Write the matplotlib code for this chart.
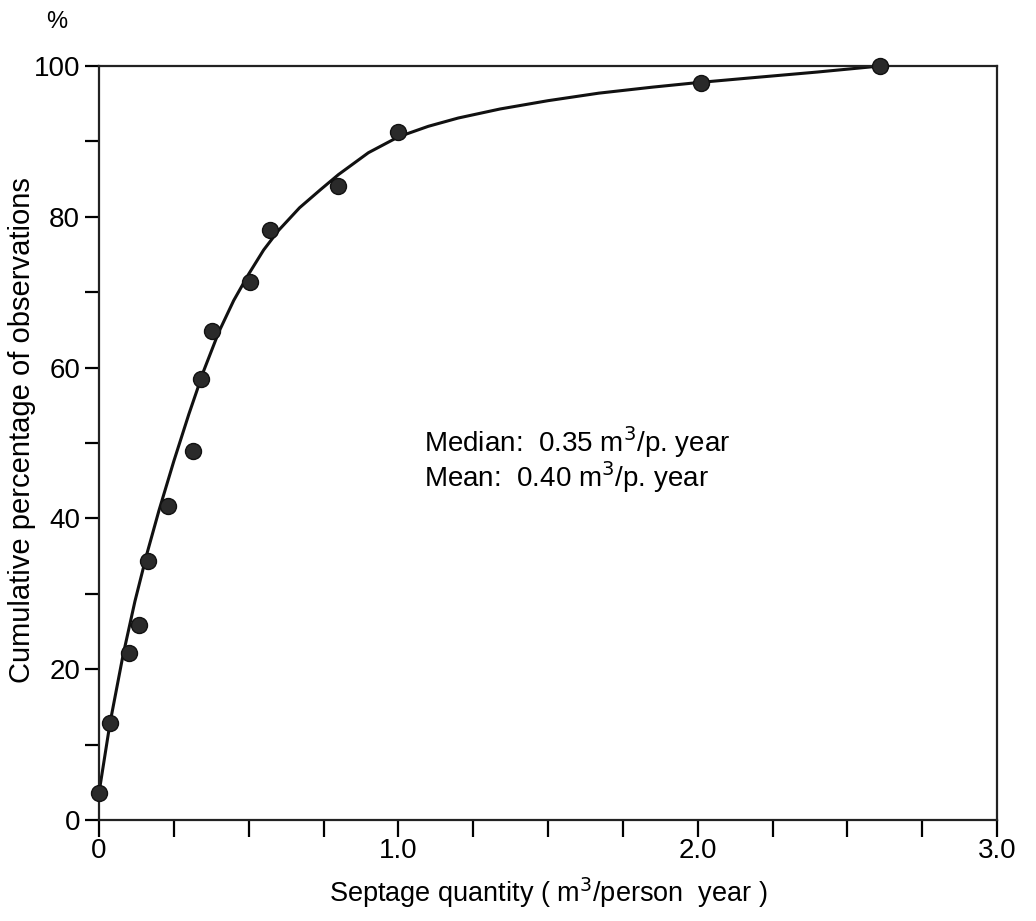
import matplotlib
matplotlib.use('Agg')
import matplotlib.pyplot as plt
import numpy as np

plt.rcParams['font.family'] = ['Liberation Sans', 'DejaVu Sans']

# observed points (septage quantity, cumulative %)
obs_x = [0.0, 0.037, 0.10, 0.134, 0.164, 0.231, 0.314, 0.342, 0.379,
         0.503, 0.572, 0.80, 1.0, 2.01, 2.61]
obs_y = [3.6, 12.9, 22.1, 25.9, 34.4, 41.6, 49.0, 58.5, 64.9,
         71.4, 78.3, 84.1, 91.2, 97.7, 100.0]

# hand-drawn fitted curve
curve_x = [0.0, 0.037, 0.08, 0.12, 0.16, 0.20, 0.25, 0.30, 0.35, 0.40,
           0.45, 0.50, 0.55, 0.60, 0.67, 0.74, 0.80, 0.90, 1.00, 1.10,
           1.20, 1.34, 1.50, 1.67, 1.85, 2.00, 2.17, 2.40, 2.61]
curve_y = [3.6, 12.9, 21.8, 29.0, 35.3, 41.0, 47.6, 53.8, 59.6, 64.7,
           68.9, 72.4, 75.6, 78.2, 81.2, 83.6, 85.6, 88.5, 90.6, 92.0,
           93.1, 94.3, 95.4, 96.4, 97.2, 97.8, 98.4, 99.2, 100.0]

xticks = np.arange(0, 3.01, 0.25)
xtick_labels = ['0', '', '', '', '1.0', '', '', '', '2.0', '', '', '', '3.0']
yticks = np.arange(0, 101, 10)
ytick_labels = ['0', '', '20', '', '40', '', '60', '', '80', '', '100']

median_txt = 'Median:  0.35 m$^3$/p. year'
mean_txt = 'Mean:  0.40 m$^3$/p. year'

fig = plt.figure(figsize=(10.36, 9.21), dpi=100)
ax = fig.add_axes([99 / 1036, 1 - 820 / 921, 898 / 1036, 754 / 921])

ax.plot(curve_x, curve_y, color='#111111', lw=2.2, zorder=2)
ax.plot(obs_x, obs_y, 'o', color='#2a2a2a', markeredgecolor='#111111',
        markersize=11.5, clip_on=False, zorder=3)

ax.set_xlim(0, 3.0)
ax.set_ylim(0, 100)
ax.set_xticks(xticks)
ax.set_xticklabels(xtick_labels)
ax.set_yticks(yticks)
ax.set_yticklabels(ytick_labels)
ax.tick_params(axis='x', direction='out', length=12, width=1.6,
               labelsize=20, pad=1)
ax.tick_params(axis='y', direction='out', length=10, width=1.6,
               labelsize=20, pad=3.5)
for s in ax.spines.values():
    s.set_linewidth(1.6)
    s.set_color('#222222')

# axis titles placed where they sit in the original
fig.text(548 / 1036, 1 - 893 / 921, 'Septage quantity ( m$^3$/person  year )',
         fontsize=19.5, ha='center', va='center')
fig.text(22 / 1036, 1 - 430 / 921, 'Cumulative percentage of observations',
         fontsize=21, rotation=90, ha='center', va='center')
fig.text(57 / 1036, 1 - 22 / 921, '%', fontsize=17, ha='center',
         va='center')

ax.text(1.087, 48.8, median_txt, fontsize=20, ha='left', va='baseline')
ax.text(1.087, 44.2, mean_txt, fontsize=20, ha='left', va='baseline')

fig.savefig('out.png', dpi=100)
